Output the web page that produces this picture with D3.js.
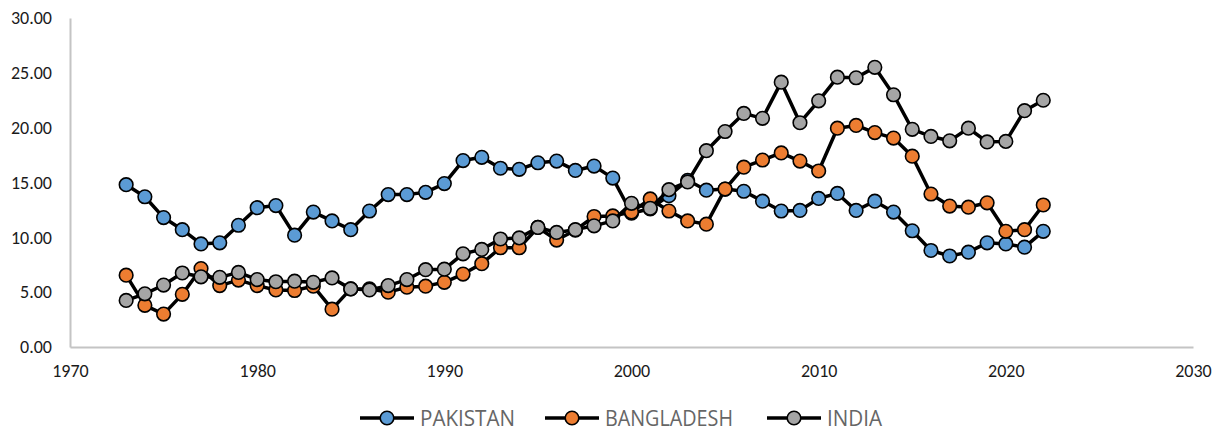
<!DOCTYPE html>
<html>
<head>
<meta charset="utf-8">
<script src="https://cdn.jsdelivr.net/npm/d3@7"></script>
<style>
  body { margin: 0; background: #fff; }
  svg { display: block; }
  text { font-family: Carlito, Lato, "Open Sans", sans-serif; }
</style>
</head>
<body>
<div id="plot"></div>
<script>
var width = 1217, height = 432;
var margin = {top: 18, right: 24, bottom: 85, left: 70};

// data, 1973 - 2022
var years = d3.range(1973, 2023);
var pakistan = [14.8, 13.7, 11.8, 10.7, 9.4, 9.5, 11.1, 12.7, 12.9, 10.2,
                12.3, 11.5, 10.7, 12.4, 13.9, 13.9, 14.1, 14.9, 17.0, 17.3,
                16.3, 16.2, 16.8, 16.95, 16.1, 16.5, 15.4, 12.2, 12.6, 13.8,
                15.2, 14.3, 14.4, 14.2, 13.3, 12.4, 12.45, 13.55, 14.0, 12.45,
                13.3, 12.3, 10.6, 8.8, 8.3, 8.65, 9.5, 9.4, 9.1, 10.55];
var bangladesh = [6.55, 3.8, 3.0, 4.8, 7.15, 5.6, 6.1, 5.6, 5.2, 5.15,
                  5.55, 3.45, 5.3, 5.3, 5.0, 5.45, 5.55, 5.9, 6.65, 7.6,
                  9.05, 9.05, 10.9, 9.75, 10.65, 11.9, 11.95, 12.3, 13.5, 12.4,
                  11.5, 11.2, 14.4, 16.4, 17.05, 17.7, 16.95, 16.05, 19.95, 20.2,
                  19.55, 19.05, 17.4, 13.95, 12.85, 12.75, 13.15, 10.55, 10.7, 12.95];
var india = [4.25, 4.85, 5.65, 6.75, 6.4, 6.35, 6.8, 6.15, 5.95, 6.0,
             5.9, 6.3, 5.3, 5.2, 5.6, 6.15, 7.05, 7.1, 8.5, 8.9,
             9.85, 9.95, 10.9, 10.45, 10.7, 11.05, 11.5, 13.1, 12.65, 14.35,
             15.05, 17.9, 19.65, 21.3, 20.85, 24.15, 20.45, 22.45, 24.6, 24.55,
             25.5, 23.0, 19.85, 19.2, 18.8, 19.95, 18.7, 18.75, 21.55, 22.5];

var seriesNames = ['PAKISTAN', 'BANGLADESH', 'INDIA'];
var seriesValues = [pakistan, bangladesh, india];
var seriesColors = ['#5b9bd5', '#ed7d31', '#a5a5a5'];

var xTicks = [1970, 1980, 1990, 2000, 2010, 2020, 2030];
var yTicks = [0, 5, 10, 15, 20, 25, 30];

// scales and axes
var xScale = d3.scaleLinear()
    .domain([1970, 2030])
    .range([margin.left, width - margin.right]);

var yScale = d3.scaleLinear()
    .domain([0, 30])
    .range([height - margin.bottom, margin.top]);

var svg = d3.select('#plot').append('svg')
    .attr('width', width)
    .attr('height', height);

var xAxis = d3.axisBottom(xScale)
    .tickValues(xTicks)
    .tickSize(0)
    .tickPadding(17)
    .tickFormat(d3.format('d'));

var yAxis = d3.axisLeft(yScale)
    .tickValues(yTicks)
    .tickSize(0)
    .tickPadding(18)
    .tickFormat(d3.format('.2f'));

var gx = svg.append('g')
    .attr('transform', 'translate(0,' + yScale(0) + ')')
    .call(xAxis);
var gy = svg.append('g')
    .attr('transform', 'translate(' + margin.left + ',0)')
    .call(yAxis);

[gx, gy].forEach(function(g) {
  g.select('.domain').attr('stroke', '#c4c4c4').attr('stroke-width', 2);
  g.selectAll('text')
      .attr('fill', '#1a1a1a')
      .style('font-size', '18px');
});

// lines + markers, one series at a time so india sits on top
var line = d3.line()
    .x(function(d, i) { return xScale(years[i]); })
    .y(function(d) { return yScale(d); });

seriesValues.forEach(function(vals, s) {
  var g = svg.append('g');
  g.append('path')
      .datum(vals)
      .attr('d', line)
      .attr('fill', 'none')
      .attr('stroke', '#000')
      .attr('stroke-width', 3.5)
      .attr('stroke-linejoin', 'round');
  g.selectAll('circle')
      .data(vals)
      .join('circle')
      .attr('cx', function(d, i) { return xScale(years[i]); })
      .attr('cy', function(d) { return yScale(d); })
      .attr('r', 6.8)
      .attr('fill', seriesColors[s])
      .attr('stroke', '#000')
      .attr('stroke-width', 1.6);
});

// legend
var legendX = [360, 545, 767];
var legendTextW = [95, 128, 55];
var legendY = 418;
var legend = svg.append('g');
seriesNames.forEach(function(name, s) {
  var x0 = legendX[s];
  legend.append('line')
      .attr('x1', x0).attr('x2', x0 + 54)
      .attr('y1', legendY).attr('y2', legendY)
      .attr('stroke', '#000')
      .attr('stroke-width', 3.5);
  legend.append('circle')
      .attr('cx', x0 + 27).attr('cy', legendY)
      .attr('r', 6.8)
      .attr('fill', seriesColors[s])
      .attr('stroke', '#000')
      .attr('stroke-width', 1.6);
  legend.append('text')
      .attr('x', x0 + 60)
      .attr('y', legendY)
      .attr('dy', '0.36em')
      .attr('fill', '#666')
      .attr('textLength', legendTextW[s])
      .attr('lengthAdjust', 'spacingAndGlyphs')
      .style('font-family', '"Liberation Sans Narrow", "Open Sans", sans-serif')
      .style('font-size', '21px')
      .text(name);
});
</script>
</body>
</html>
